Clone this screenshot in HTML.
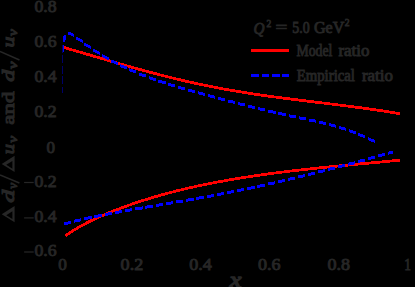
<!DOCTYPE html>
<html><head><meta charset="utf-8"><style>
html,body{margin:0;padding:0;background:#000;}
body{width:415px;height:287px;overflow:hidden;position:relative;}
svg{position:absolute;left:0;top:0;}
text{font-family:"Liberation Serif",serif;fill:#262626;stroke:#262626;stroke-width:0.9;}
</style></head><body>
<svg width="415" height="287" viewBox="0 0 415 287">
<defs><clipPath id="ax"><rect x="62.6" y="0" width="352.4" height="260"/></clipPath></defs>
<g shape-rendering="crispEdges" fill="none" stroke-width="2.8">
<path d="M63.90 47.50 C65.90 48.08 71.90 49.79 75.90 50.95 C79.90 52.11 83.90 53.29 87.90 54.46 C91.90 55.63 95.90 56.81 99.90 57.98 C103.90 59.16 107.90 60.34 111.90 61.50 C115.90 62.67 119.90 63.83 123.90 64.98 C127.90 66.12 131.90 67.26 135.90 68.38 C139.90 69.49 143.90 70.60 147.90 71.67 C151.90 72.75 155.90 73.81 159.90 74.84 C163.90 75.87 167.90 76.88 171.90 77.86 C175.90 78.83 179.90 79.79 183.90 80.72 C187.90 81.64 191.90 82.54 195.90 83.42 C199.90 84.29 203.90 85.13 207.90 85.95 C211.90 86.76 215.90 87.55 219.90 88.30 C223.90 89.05 227.90 89.78 231.90 90.47 C235.90 91.17 239.90 91.83 243.90 92.47 C247.90 93.11 251.90 93.72 255.90 94.32 C259.90 94.91 263.90 95.49 267.90 96.04 C271.90 96.60 275.90 97.14 279.90 97.67 C283.90 98.20 287.90 98.71 291.90 99.21 C295.90 99.72 299.90 100.21 303.90 100.71 C307.90 101.20 311.90 101.68 315.90 102.17 C319.90 102.66 323.90 103.14 327.90 103.63 C331.90 104.12 335.90 104.61 339.90 105.11 C343.90 105.61 347.90 106.12 351.90 106.64 C355.90 107.16 359.90 107.68 363.90 108.23 C367.90 108.77 371.90 109.33 375.90 109.91 C379.90 110.49 383.90 111.09 387.90 111.71 C391.90 112.33 397.90 113.32 399.90 113.65" stroke="#ff0000"/>
<path d="M65.50 235.75 C65.83 235.52 66.83 234.82 67.50 234.36 C68.17 233.90 68.83 233.46 69.50 233.02 C70.17 232.57 70.83 232.14 71.50 231.71 C72.17 231.28 72.83 230.86 73.50 230.45 C74.17 230.03 74.83 229.62 75.50 229.22 C76.17 228.82 76.83 228.42 77.50 228.03 C78.17 227.64 78.83 227.25 79.50 226.87 C80.17 226.49 80.83 226.12 81.50 225.75 C82.17 225.38 82.83 225.02 83.50 224.66 C84.17 224.30 84.83 223.94 85.50 223.59 C86.17 223.24 86.83 222.90 87.50 222.55 C88.17 222.21 88.83 221.88 89.50 221.54 C90.17 221.21 90.83 220.88 91.50 220.56 C92.17 220.23 92.83 219.91 93.50 219.59 C94.17 219.28 94.83 218.96 95.50 218.65 C96.17 218.34 96.83 218.03 97.50 217.73 C98.17 217.43 99.08 217.02 99.50 216.83 C99.92 216.64 97.92 217.48 100.00 216.61 C102.08 215.73 108.00 213.18 112.00 211.58 C116.00 209.97 120.00 208.45 124.00 206.99 C128.00 205.52 132.00 204.12 136.00 202.77 C140.00 201.42 144.00 200.13 148.00 198.90 C152.00 197.66 156.00 196.48 160.00 195.35 C164.00 194.22 168.00 193.14 172.00 192.10 C176.00 191.06 180.00 190.08 184.00 189.12 C188.00 188.17 192.00 187.27 196.00 186.39 C200.00 185.52 204.00 184.69 208.00 183.88 C212.00 183.08 216.00 182.31 220.00 181.57 C224.00 180.83 228.00 180.12 232.00 179.43 C236.00 178.75 240.00 178.09 244.00 177.46 C248.00 176.82 252.00 176.22 256.00 175.63 C260.00 175.05 264.00 174.49 268.00 173.94 C272.00 173.40 276.00 172.88 280.00 172.37 C284.00 171.87 288.00 171.38 292.00 170.91 C296.00 170.44 300.00 169.98 304.00 169.54 C308.00 169.10 312.00 168.67 316.00 168.25 C320.00 167.83 324.00 167.42 328.00 167.02 C332.00 166.62 336.00 166.23 340.00 165.84 C344.00 165.45 348.00 165.07 352.00 164.70 C356.00 164.32 360.00 163.95 364.00 163.57 C368.00 163.20 372.00 162.83 376.00 162.46 C380.00 162.09 384.02 161.71 388.00 161.34 C391.98 160.96 397.92 160.39 399.90 160.20" stroke="#ff0000"/>
<path clip-path="url(#ax)" d="M62.4 44.8L62.2 50L61.9 58L61.6 70L61.4 93" stroke="#0000ff" stroke-width="2.8" stroke-dasharray="7.8 2.7"/>
<path d="M64 41.9L64.9 34.9" stroke="#0000ff" stroke-width="2.6"/>
<path d="M68.00 32.16L68.32 32.13L68.65 32.12L68.97 32.14L69.30 32.16L69.62 32.21L69.94 32.27L70.27 32.35L70.59 32.44L70.92 32.54L71.24 32.66L71.56 32.79L71.89 32.94L72.21 33.09L72.54 33.26L72.86 33.43L73.18 33.61L73.51 33.81L73.83 34.01L74.16 34.21L74.16 37.21L73.83 37.01L73.51 36.81L73.18 36.61L72.86 36.43L72.54 36.26L72.21 36.09L71.89 35.94L71.56 35.79L71.24 35.66L70.92 35.54L70.59 35.44L70.27 35.35L69.94 35.27L69.62 35.21L69.30 35.16L68.97 35.14L68.65 35.12L68.32 35.13L68.00 35.16ZM76.06 36.32L82.79 40.02L82.79 43.02L76.06 39.32ZM84.30 42.62L91.12 46.14L91.12 49.14L84.30 45.62ZM92.83 48.55L99.73 51.86L99.73 54.86L92.83 51.55ZM101.63 54.07L108.60 57.16L108.60 60.16L101.63 57.07ZM110.66 59.19L117.69 62.06L117.69 65.06L110.66 62.19ZM119.90 63.93L126.97 66.60L126.97 69.60L119.90 66.93ZM129.31 68.31L136.42 70.78L136.42 73.78L129.31 71.31ZM138.88 72.36L146.02 74.63L146.02 77.63L138.88 75.36ZM148.56 76.09L155.73 78.19L155.73 81.19L148.56 79.09ZM158.35 79.53L165.53 81.48L165.53 84.48L158.35 82.53ZM168.21 82.74L175.41 84.56L175.41 87.56L168.21 85.74ZM178.13 85.75L185.34 87.48L185.34 90.48L178.13 88.75ZM188.09 88.62L195.31 90.28L195.31 93.28L188.09 91.62ZM198.08 91.40L205.30 93.03L205.30 96.03L198.08 94.40ZM208.07 94.13L215.29 95.75L215.29 98.75L208.07 97.13ZM218.07 96.84L225.30 98.43L225.30 101.43L218.07 99.84ZM228.09 99.50L235.31 101.06L235.31 104.06L228.09 102.50ZM238.11 102.12L245.35 103.64L245.35 106.64L238.11 105.12ZM248.16 104.68L255.39 106.16L255.39 109.16L248.16 107.68ZM258.21 107.17L265.45 108.61L265.45 111.61L258.21 110.17ZM268.29 109.59L275.54 110.98L275.54 113.98L268.29 112.59ZM278.39 111.93L285.64 113.25L285.64 116.25L278.39 114.93ZM288.51 114.17L295.76 115.43L295.76 118.43L288.51 117.17ZM298.65 116.32L305.90 117.55L305.90 120.55L298.65 119.32ZM308.78 118.44L316.03 119.72L316.03 122.72L308.78 121.44ZM318.89 120.67L326.13 122.08L326.13 125.08L318.89 123.67ZM328.94 123.11L336.17 124.72L336.17 127.72L328.94 126.11ZM338.90 125.89L346.09 127.76L346.09 130.76L338.90 128.89ZM348.71 129.11L355.87 131.28L355.87 134.28L348.71 132.11ZM358.34 132.83L365.44 135.33L365.44 138.33L358.34 135.83ZM367.72 137.12L374.75 139.96L374.75 142.96L367.72 140.12Z" fill="#0000ff"/>
<path d="M64.21 222.25L71.44 220.68L71.44 223.68L64.21 225.25ZM74.25 219.64L81.49 218.21L81.49 221.21L74.25 222.64ZM84.34 217.26L91.59 215.95L91.59 218.95L84.34 220.26ZM94.47 215.06L101.73 213.86L101.73 216.86L94.47 218.06ZM104.64 213.02L111.90 211.91L111.90 214.91L104.64 216.02ZM114.82 211.10L122.09 210.05L122.09 213.05L114.82 214.10ZM125.02 209.27L132.29 208.25L132.29 211.25L125.02 212.27ZM135.23 207.48L142.50 206.49L142.50 209.49L135.23 210.48ZM145.44 205.73L152.71 204.74L152.71 207.74L145.44 208.73ZM155.65 203.99L162.92 203.00L162.92 206.00L155.65 206.99ZM165.86 202.25L173.13 201.26L173.13 204.26L165.86 205.25ZM176.07 200.50L183.34 199.50L183.34 202.50L176.07 203.50ZM186.28 198.74L193.55 197.72L193.55 200.72L186.28 201.74ZM196.48 196.94L203.75 195.89L203.75 198.89L196.48 199.94ZM206.67 195.09L213.94 194.01L213.94 197.01L206.67 198.09ZM216.86 193.19L224.12 192.07L224.12 195.07L216.86 196.19ZM227.02 191.23L234.28 190.05L234.28 193.05L227.02 194.23ZM237.18 189.19L244.43 187.97L244.43 190.97L237.18 192.19ZM247.32 187.08L254.57 185.82L254.57 188.82L247.32 190.08ZM257.45 184.91L264.70 183.61L264.70 186.61L257.45 187.91ZM267.56 182.67L274.81 181.33L274.81 184.33L267.56 185.67ZM277.66 180.38L284.90 178.99L284.90 181.99L277.66 183.38ZM287.74 178.02L294.98 176.60L294.98 179.60L287.74 181.02ZM297.82 175.60L305.05 174.15L305.05 177.15L297.82 178.60ZM307.87 173.14L315.11 171.65L315.11 174.65L307.87 176.14ZM317.92 170.61L325.15 169.10L325.15 172.10L317.92 173.61ZM327.95 168.04L335.18 166.49L335.18 169.49L327.95 171.04ZM337.97 165.42L345.20 163.84L345.20 166.84L337.97 168.42ZM347.98 162.75L355.21 161.15L355.21 164.15L347.98 165.75ZM357.98 160.04L365.20 158.41L365.20 161.41L357.98 163.04ZM367.96 157.29L375.18 155.62L375.18 158.62L367.96 160.29ZM377.94 154.49L385.15 152.80L385.15 155.80L377.94 157.49ZM387.90 151.66L392.80 150.61L392.80 153.61L387.90 154.66Z" fill="#0000ff"/>
<rect x="251" y="49" width="38" height="3" fill="#ff0000"/>
<path d="M251 74h8v3h-8zM262 74h7v3h-7zM272 74h8v3h-8zM282 74h7v3h-7z" fill="#0000ff"/>
</g>
<text transform="translate(34.40 12.00) scale(1.0571 1)" font-size="16.80">0.8</text>
<text transform="translate(34.40 47.40) scale(1.0571 1)" font-size="16.80">0.6</text>
<text transform="translate(34.40 81.60) scale(1.0571 1)" font-size="16.80">0.4</text>
<text transform="translate(34.40 116.60) scale(1.0571 1)" font-size="16.80">0.2</text>
<text transform="translate(46.40 152.90) scale(1.0119 1)" font-size="16.80">0</text>
<text transform="translate(34.40 186.80) scale(1.0571 1)" font-size="16.80">0.2</text>
<rect x="24.1" y="181.90" width="9.6" height="1.2" fill="#262626"/>
<text transform="translate(34.40 222.20) scale(1.0571 1)" font-size="16.80">0.4</text>
<rect x="24.1" y="217.30" width="9.6" height="1.2" fill="#262626"/>
<text transform="translate(34.40 256.30) scale(1.0571 1)" font-size="16.80">0.6</text>
<rect x="24.1" y="251.40" width="9.6" height="1.2" fill="#262626"/>
<text transform="translate(58.20 270.30) scale(1.0238 1)" font-size="16.80">0</text>
<text transform="translate(120.60 270.30) scale(1.0762 1)" font-size="16.80">0.2</text>
<text transform="translate(189.30 270.30) scale(1.0762 1)" font-size="16.80">0.4</text>
<text transform="translate(257.90 270.30) scale(1.0762 1)" font-size="16.80">0.6</text>
<text transform="translate(327.40 270.30) scale(1.0762 1)" font-size="16.80">0.8</text>
<text transform="translate(404.20 270.30) scale(0.7976 1)" font-size="16.80">1</text>
<text transform="translate(229.74 286.90) scale(1.3129 1)" font-size="20.00" font-style="italic" style="stroke-width:1.3">x</text>
<text transform="translate(296.50 56.00) scale(0.8487 1)" font-size="16.20">Model</text>
<text transform="translate(338.40 56.00) scale(1.0440 1)" font-size="16.20">ratio</text>
<text transform="translate(296.70 80.90) scale(0.9127 1)" font-size="16.20">Empirical</text>
<text transform="translate(361.90 80.90) scale(1.0440 1)" font-size="16.20">ratio</text>
<text transform="translate(253.60 33.80) scale(0.9405 1)" font-size="16.20" font-style="italic">Q</text>
<text transform="translate(266.40 26.50) scale(0.8889 1)" font-size="10.80">2</text>
<text transform="translate(275.50 33.40) scale(1.2915 1)" font-size="16.20">=</text>
<text transform="translate(292.30 33.40) scale(0.8543 1)" font-size="16.20">5.0</text>
<text transform="translate(314.00 33.40) scale(0.9939 1)" font-size="16.20">GeV</text>
<text transform="translate(344.80 26.00) scale(0.8889 1)" font-size="10.80">2</text>
<g transform="translate(14.6 222.4) rotate(-90)">
<path fill="#262626" fill-rule="evenodd" d="M0.20 0.00L8.20 -12.90L16.30 0.00ZM3.45 -2.20L11.14 -2.20L7.27 -8.36Z"/>
<text transform="translate(19.60 -0.40) scale(1.5082 1)" font-size="17.40" font-style="italic" style="stroke-width:1.0">d</text>
<text transform="translate(33.60 2.60) scale(1.0222 1)" font-size="13.00" font-style="italic" style="stroke-width:1.0">v</text>
<path d="M39.4 4.8L47.4 -14.6" stroke="#262626" stroke-width="1.5"/>
<path fill="#262626" fill-rule="evenodd" d="M50.50 0.00L58.50 -12.90L66.60 0.00ZM53.75 -2.20L61.44 -2.20L57.57 -8.36Z"/>
<text transform="translate(68.20 -0.40) scale(1.2410 1)" font-size="16.60" font-style="italic" style="stroke-width:1.0">u</text>
<text transform="translate(79.60 2.60) scale(1.1781 1)" font-size="13.00" font-style="italic" style="stroke-width:1.0">v</text>
<text transform="translate(97.70 -0.40) scale(1.3408 1)" font-size="17.20" style="stroke-width:1.0">and</text>
<text transform="translate(140.60 -0.40) scale(1.3825 1)" font-size="17.40" font-style="italic" style="stroke-width:1.0">d</text>
<text transform="translate(153.40 2.60) scale(1.2994 1)" font-size="13.00" font-style="italic" style="stroke-width:1.0">v</text>
<path d="M162.4 4.9L170.9 -14.6" stroke="#262626" stroke-width="1.5"/>
<text transform="translate(174.90 -0.40) scale(1.3253 1)" font-size="16.60" font-style="italic" style="stroke-width:1.0">u</text>
<text transform="translate(186.30 2.60) scale(1.1954 1)" font-size="13.00" font-style="italic" style="stroke-width:1.0">v</text>
</g>
</svg>
</body></html>
